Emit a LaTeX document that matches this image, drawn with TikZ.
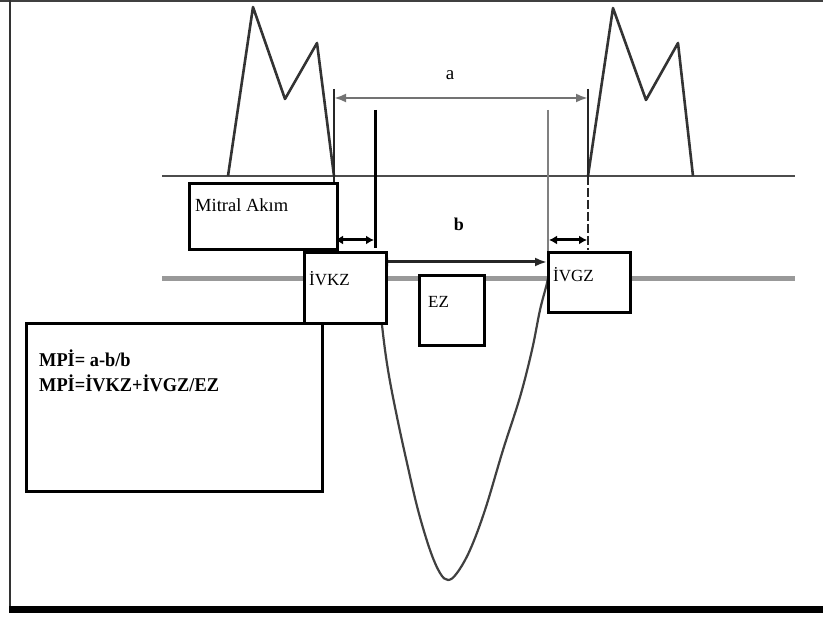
\documentclass[tikz,border=0pt]{standalone}
\usepackage{fontspec}
\setmainfont{Liberation Serif}
\usetikzlibrary{arrows.meta}
\begin{document}
\begin{tikzpicture}[x=1pt,y=-1pt,
  boxnode/.style={draw=black, line width=3pt, fill=white, inner sep=0pt, anchor=north west},
  lbl/.style={inner sep=0pt, anchor=west, font=\fontsize{17}{19}\selectfont},
  wave/.style={draw=black!80, line width=2.6pt, line join=round},
  dim/.style={line width=2.4pt, {Latex[length=12pt,width=9pt]}-{Latex[length=12pt,width=9pt]}},
  smalldim/.style={line width=3pt, black, {Latex[length=8pt,width=9pt]}-{Latex[length=8pt,width=9pt]}}
]
\useasboundingbox (0,0) rectangle (823,617);
\fill[white] (0,0) rectangle (823,617);
% frame
\draw[line width=2pt, black!75] (0,1) -- (823,1);
\draw[line width=2.4pt, black!80] (10,0) -- (10,606);
\fill[black] (9,606) rectangle (823,613);

% baselines
\draw[line width=2.6pt, black!70] (162,176) -- (795,176);
\draw[line width=5pt, black!40] (162,279) -- (795,279);

% M waves
\draw[wave] (228,176) -- (253,7) -- (285,99) -- (317,43) -- (334,176);
\draw[wave] (588,176) -- (613,8) -- (646,100) -- (678,43) -- (693,176);

% ventricular U wave
\draw[wave, line width=2.2pt, draw=black!75] plot[smooth, tension=0.6] coordinates {(376,262) (382,325) (388,370) (397,417) (407,463) (418,510) (430,550) (440,573) (448,580) (457,573) (470,550) (485,510) (503,450) (520,397) (532,350) (540,310) (547,283) (551,262)};

% outer vertical bars
\coordinate (aL) at (334,98);
\coordinate (aR) at (588,98);
\draw[line width=1.6pt, black!85] (334,89) -- (334,176);
\draw[line width=1.6pt, black!85, dash pattern=on 9pt off 3pt] (334,176) -- (334,248);
\draw[line width=1.6pt, black!85] (588,89) -- (588,176);
\draw[line width=1.6pt, black!85, dash pattern=on 9pt off 3pt] (588,176) -- (588,250);

% inner vertical bars
\draw[line width=3pt, black] (375,110) -- (375,248);
\draw[line width=2.6pt, black!50] (548,110) -- (548,251);

% dimension arrows
\draw[dim, black!55] (aL) -- (aR);
\coordinate (bL) at (376,262);
\coordinate (bR) at (547,262);
\draw[dim, black!85, line width=3pt] (bL) -- (bR);
\coordinate (s1L) at (335,240);
\coordinate (s1R) at (374,240);
\coordinate (s2L) at (549,240);
\coordinate (s2R) at (587,240);
\draw[smalldim] (s1L) -- (s1R);
\draw[smalldim] (s2L) -- (s2R);

\node[inner sep=0pt, font=\fontsize{19}{21}\selectfont] (alabel) at (450,75) {a};
\node[inner sep=0pt, font=\fontsize{18}{20}\selectfont\bfseries] (blabel) at (459,224) {b};

% boxes
\node[boxnode, minimum width=148pt, minimum height=66pt] (mitral) at (188,182) {};
\node[lbl, font=\fontsize{18.5}{20}\selectfont] (mitraltxt) at (195,205) {Mitral Akım};
\node[boxnode, minimum width=82pt, minimum height=71pt] (ivkz) at (303,251) {};
\node[lbl] (ivkztxt) at (309,279) {İVKZ};
\node[boxnode, minimum width=65pt, minimum height=70pt] (ez) at (418,274) {};
\node[lbl] (eztxt) at (428,302) {EZ};
\node[boxnode, minimum width=82pt, minimum height=60pt] (ivgz) at (547,251) {};
\node[lbl] (ivgztxt) at (553,275) {İVGZ};
\node[boxnode, minimum width=296pt, minimum height=168pt] (mpi) at (25,322) {};
\node[inner sep=0pt, anchor=north west, align=left, font=\fontsize{19.5}{25}\selectfont\bfseries] (mpitxt) at (39,350) {\scalebox{0.94}[1]{MPİ= a-b/b}\\\scalebox{0.94}[1]{MPİ=İVKZ+İVGZ/EZ}};
\end{tikzpicture}
\end{document}
